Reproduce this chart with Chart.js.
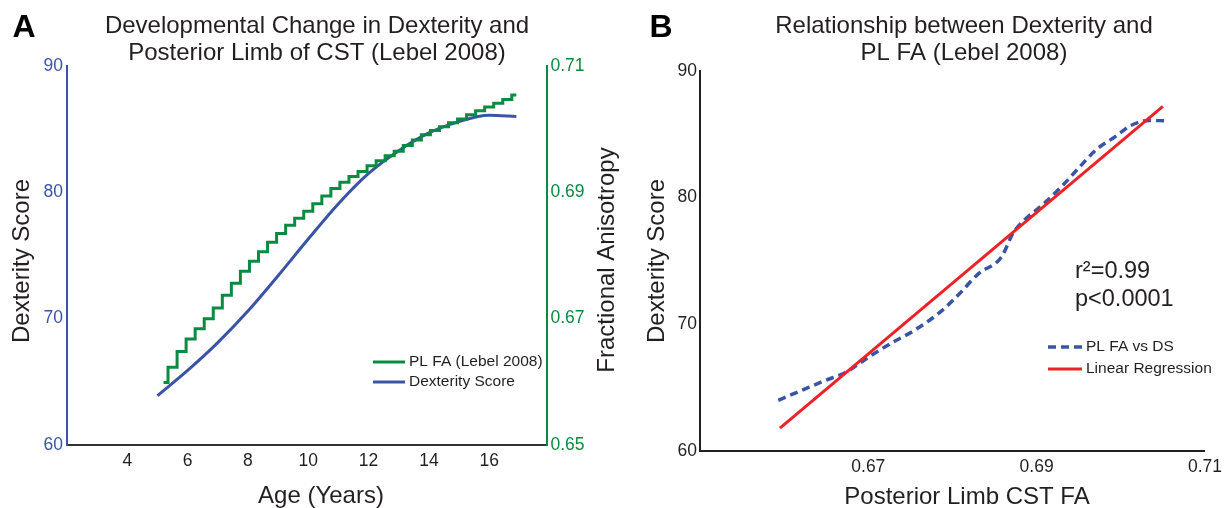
<!DOCTYPE html>
<html>
<head>
<meta charset="utf-8">
<script src="https://cdn.jsdelivr.net/npm/chart.js@4.4.0/dist/chart.umd.min.js"></script>
<style>
  body { margin: 0; background: #fff; }
  #wrapA { position: absolute; left: 0; top: 0; width: 630px; height: 508px; }
  #wrapB { position: absolute; left: 630px; top: 0; width: 598px; height: 508px; }
</style>
</head>
<body>
<div id="wrapA"><canvas id="chartA"></canvas></div>
<div id="wrapB"><canvas id="chartB"></canvas></div>
<script>
// ----------- Data -----------
// Panel A: dexterity score by age
const dsAges = [5, 6, 7, 8, 9, 10, 11, 12, 13, 14, 15, 16, 16.9];
const dexterity = [63.9, 65.9, 68.1, 70.6, 73.4, 76.3, 79.1, 81.5, 83.3, 84.7, 85.6, 86.1, 86.0];

// Panel A: posterior limb FA by age (stair-stepped trace)
const faAges = [5.2, 5.5, 5.8, 6.1, 6.4, 6.7, 7.0, 7.3, 7.6, 7.9, 8.2, 8.5, 8.8, 9.1, 9.4, 9.7, 10.0, 10.3, 10.6, 10.9,
                11.2, 11.5, 11.8, 12.1, 12.4, 12.7, 13.0, 13.3, 13.6, 13.9, 14.2, 14.5, 14.8, 15.1, 15.4, 15.7, 16.0, 16.3, 16.6, 16.9];
const plFA = [0.6599, 0.6623, 0.6648, 0.6668, 0.6684, 0.6700, 0.6717, 0.6737, 0.6756, 0.6775, 0.6791, 0.6806, 0.6821, 0.6835,
              0.6848, 0.6859, 0.6870, 0.6882, 0.6894, 0.6906, 0.6916, 0.6925, 0.6933, 0.6942, 0.6950, 0.6958, 0.6965, 0.6974,
              0.6983, 0.6991, 0.6998, 0.7004, 0.7010, 0.7016, 0.7023, 0.7029, 0.7035, 0.7041, 0.7047, 0.7054];

// Panel B: FA vs dexterity score, plus regression line
const bFA = [0.6593, 0.6623, 0.6650, 0.6673, 0.6700, 0.6727, 0.6754, 0.6786, 0.6808, 0.6831, 0.6858,
             0.6872, 0.6885, 0.6908, 0.6930, 0.6948, 0.6971, 0.6993, 0.7012, 0.7034, 0.7052];
const bDS = [64.0, 64.85, 65.6, 66.2, 67.4, 68.5, 69.5, 71.0, 72.4, 74.0, 75.3,
             77.2, 78.2, 79.5, 80.9, 82.2, 83.8, 84.8, 85.7, 86.1, 86.07];
const regFA = [0.6595, 0.7050];
const regDS = [61.8, 87.2];

// Tick labels
const ageTicks = [4, 6, 8, 10, 12, 14, 16];
const dsTicks = [60, 70, 80, 90];
const faTicks = [0.65, 0.67, 0.69, 0.71];
const bFaTicks = [0.67, 0.69, 0.71];

// ----------- Styles -----------
const INK = '#231f20';
const BLUE = '#3a54a5';
const GREEN = '#0b8a41';
const RED = '#ec2227';
const FAMILY = '"Liberation Sans", Arial, Helvetica, sans-serif';
Chart.defaults.font.family = FAMILY;
Chart.defaults.color = INK;

const pairs = (xs, ys) => xs.map((x, i) => ({ x, y: ys[i] }));
const fixTicks = list => scale => { scale.ticks = list.map(v => ({ value: v })); };
const noGrid = { display: false, drawTicks: false };

// texts, titles and in-plot legends drawn on top of the chart
const overlayText = {
  id: 'overlayText',
  afterDraw(chart, args, opts) {
    const ctx = chart.ctx;
    ctx.save();
    ctx.textBaseline = 'middle';
    (opts.texts || []).forEach(t => {
      ctx.save();
      ctx.font = t.font;
      ctx.fillStyle = t.color || INK;
      ctx.textAlign = t.align || 'center';
      ctx.translate(t.x, t.y);
      if (t.rotate) ctx.rotate(t.rotate);
      ctx.fillText(t.text, 0, 0);
      ctx.restore();
    });
    (opts.legend || []).forEach(l => {
      const ds = chart.data.datasets[l.index];
      ctx.strokeStyle = ds.borderColor;
      ctx.lineWidth = ds.borderWidth;
      ctx.setLineDash(ds.borderDash || []);
      ctx.beginPath();
      ctx.moveTo(l.x1, l.y);
      ctx.lineTo(l.x2, l.y);
      ctx.stroke();
      ctx.setLineDash([]);
      ctx.font = '15.5px ' + FAMILY;
      ctx.fillStyle = INK;
      ctx.textAlign = 'left';
      ctx.fillText(ds.label, l.x2 + 4, l.y);
    });
    ctx.restore();
  }
};

const titleFont = '24px ' + FAMILY;
const axisFont = '24px ' + FAMILY;
const letterFont = 'bold 32px ' + FAMILY;

// ----------- Panel A -----------
new Chart(document.getElementById('chartA'), {
  type: 'line',
  data: {
    datasets: [
      { label: 'PL FA (Lebel 2008)', data: pairs(faAges, plFA), yAxisID: 'y1', borderColor: GREEN,
        borderWidth: 3, stepped: 'middle', pointRadius: 0 },
      { label: 'Dexterity Score', data: pairs(dsAges, dexterity), yAxisID: 'y', borderColor: BLUE,
        borderWidth: 3, cubicInterpolationMode: 'monotone', pointRadius: 0 }
    ]
  },
  options: {
    responsive: true,
    maintainAspectRatio: false,
    animation: false,
    layout: { padding: { top: 66, left: 0, right: 0, bottom: 0 } },
    plugins: {
      legend: { display: false },
      tooltip: { enabled: false },
      overlayText: {
        texts: [
          { text: 'A', x: 24, y: 28, font: letterFont, color: '#000' },
          { text: 'Developmental Change in Dexterity and', x: 317, y: 26, font: titleFont },
          { text: 'Posterior Limb of CST (Lebel 2008)', x: 317, y: 53, font: titleFont },
          { text: 'Dexterity Score', x: 22, y: 261, font: axisFont, rotate: -Math.PI / 2 },
          { text: 'Fractional Anisotropy', x: 607, y: 260, font: axisFont, rotate: -Math.PI / 2 },
          { text: 'Age (Years)', x: 321, y: 496, font: axisFont }
        ],
        legend: [
          { index: 0, x1: 373, x2: 405, y: 362 },
          { index: 1, x1: 373, x2: 405, y: 382 }
        ]
      }
    },
    scales: {
      x: {
        type: 'linear', min: 2, max: 17.9,
        afterBuildTicks: fixTicks(ageTicks),
        afterFit: s => { s.height = 63; },
        grid: noGrid,
        border: { display: true, color: '#333', width: 2 },
        ticks: { padding: 6, font: { size: 17.5 }, color: INK }
      },
      y: {
        position: 'left', min: 60, max: 90,
        afterBuildTicks: fixTicks(dsTicks),
        afterFit: s => { s.width = 67; },
        grid: noGrid,
        border: { display: true, color: BLUE, width: 2 },
        ticks: { padding: 4, font: { size: 17.5 }, color: BLUE }
      },
      y1: {
        position: 'right', min: 0.65, max: 0.71,
        afterBuildTicks: fixTicks(faTicks),
        afterFit: s => { s.width = 83.5; },
        grid: noGrid,
        border: { display: true, color: GREEN, width: 2 },
        ticks: { padding: 4, font: { size: 17.5 }, color: GREEN, callback: v => v.toFixed(2) }
      }
    }
  },
  plugins: [overlayText]
});

// ----------- Panel B -----------
new Chart(document.getElementById('chartB'), {
  type: 'line',
  data: {
    datasets: [
      { label: 'Linear Regression', data: pairs(regFA, regDS), borderColor: RED, borderWidth: 3, pointRadius: 0 },
      { label: 'PL FA vs DS', data: pairs(bFA, bDS), borderColor: BLUE, borderWidth: 3.5,
        borderDash: [8, 5], cubicInterpolationMode: 'monotone', pointRadius: 0 }
    ]
  },
  options: {
    responsive: true,
    maintainAspectRatio: false,
    animation: false,
    layout: { padding: { top: 71, left: 0, right: 19, bottom: 0 } },
    plugins: {
      legend: { display: false },
      tooltip: { enabled: false },
      overlayText: {
        texts: [
          { text: 'B', x: 31, y: 28, font: letterFont, color: '#000' },
          { text: 'Relationship between Dexterity and', x: 334, y: 26, font: titleFont },
          { text: 'PL FA (Lebel 2008)', x: 334, y: 53, font: titleFont },
          { text: 'Dexterity Score', x: 27, y: 261, font: axisFont, rotate: -Math.PI / 2 },
          { text: 'Posterior Limb CST FA', x: 337, y: 497, font: axisFont },
          { text: 'r²=0.99', x: 445, y: 272, font: '23.5px ' + FAMILY, align: 'left' },
          { text: 'p<0.0001', x: 445, y: 300, font: '23.5px ' + FAMILY, align: 'left' }
        ],
        legend: [
          { index: 1, x1: 418, x2: 452, y: 347 },
          { index: 0, x1: 418, x2: 452, y: 369 }
        ]
      }
    },
    scales: {
      x: {
        type: 'linear', min: 0.65, max: 0.71,
        afterBuildTicks: fixTicks(bFaTicks),
        afterFit: s => { s.height = 57; },
        grid: noGrid,
        border: { display: true, color: INK, width: 2 },
        ticks: { padding: 6, font: { size: 17.5 }, color: INK, callback: v => v.toFixed(2) }
      },
      y: {
        min: 60, max: 90,
        afterBuildTicks: fixTicks(dsTicks),
        afterFit: s => { s.width = 70; },
        grid: noGrid,
        border: { display: true, color: INK, width: 2 },
        ticks: { padding: 3, font: { size: 17.5 }, color: INK }
      }
    }
  },
  plugins: [overlayText]
});
</script>
</body>
</html>
